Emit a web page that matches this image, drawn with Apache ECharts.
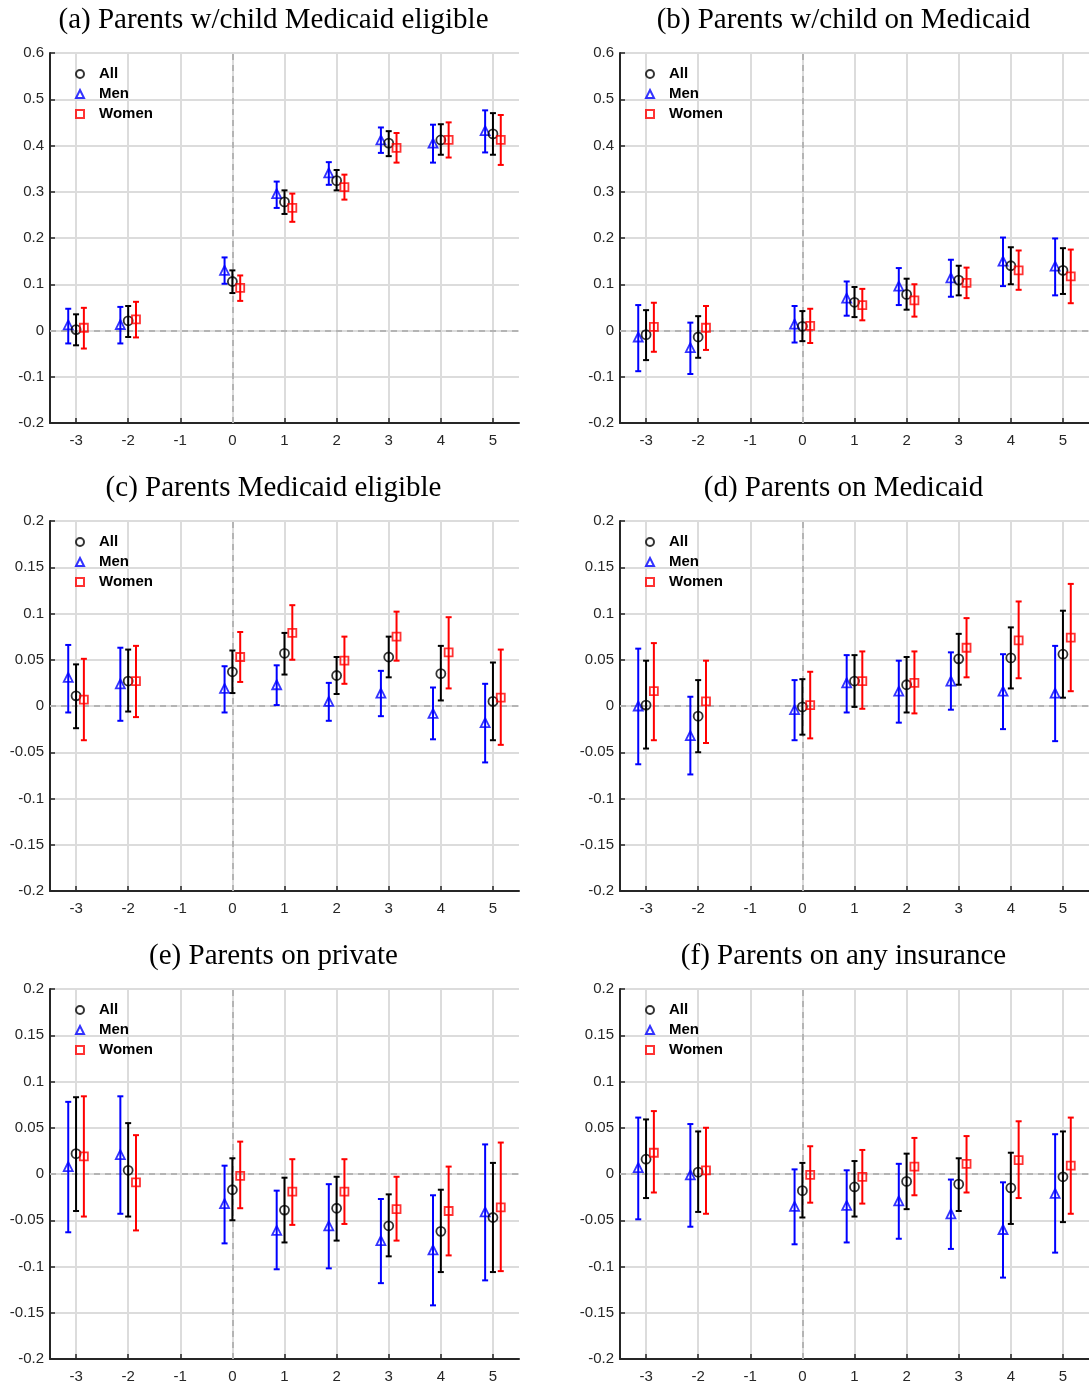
<!DOCTYPE html>
<html>
<head>
<meta charset="utf-8">
<script src="https://cdn.jsdelivr.net/npm/echarts@6/dist/echarts.min.js"></script>
<style>
  html, body { margin: 0; padding: 0; background: #fff; }
  #chart { width: 1089px; height: 1389px; }
</style>
</head>
<body>
<div id="chart"></div>
<script>
// event time (years relative to expansion); -1 is the omitted reference year
const xTicks = [-3, -2, -1, 0, 1, 2, 3, 4, 5];
const periods = [-3, -2, 0, 1, 2, 3, 4, 5];

const titles = [
  '(a) Parents w/child Medicaid eligible',
  '(b) Parents w/child on Medicaid',
  '(c) Parents Medicaid eligible',
  '(d) Parents on Medicaid',
  '(e) Parents on private',
  '(f) Parents on any insurance'
];

// each row: [estimate, lower CI, upper CI]
const aAll = [[0.002,-0.032,0.035],[0.021,-0.014,0.053],[0.106,0.081,0.130],[0.278,0.252,0.303],[0.324,0.303,0.347],[0.405,0.377,0.431],[0.412,0.380,0.446],[0.425,0.380,0.470]];
const aMen = [[0.012,-0.028,0.047],[0.013,-0.028,0.051],[0.130,0.101,0.158],[0.296,0.265,0.322],[0.341,0.315,0.364],[0.412,0.384,0.439],[0.405,0.363,0.445],[0.432,0.385,0.476]];
const aWomen = [[0.006,-0.039,0.049],[0.024,-0.015,0.062],[0.092,0.064,0.119],[0.265,0.235,0.296],[0.310,0.283,0.337],[0.395,0.363,0.427],[0.412,0.374,0.450],[0.412,0.358,0.466]];

const bAll = [[-0.009,-0.064,0.044],[-0.014,-0.059,0.031],[0.009,-0.023,0.042],[0.061,0.029,0.094],[0.078,0.045,0.112],[0.109,0.076,0.140],[0.140,0.100,0.180],[0.130,0.079,0.178]];
const bMen = [[-0.014,-0.088,0.055],[-0.037,-0.094,0.017],[0.014,-0.026,0.053],[0.070,0.032,0.106],[0.096,0.055,0.135],[0.114,0.073,0.153],[0.150,0.096,0.201],[0.139,0.076,0.199]];
const bWomen = [[0.008,-0.046,0.060],[0.006,-0.042,0.053],[0.010,-0.027,0.047],[0.055,0.022,0.090],[0.065,0.030,0.100],[0.103,0.070,0.136],[0.130,0.088,0.173],[0.117,0.059,0.175]];

const cAll = [[0.011,-0.024,0.045],[0.027,-0.006,0.061],[0.037,0.014,0.060],[0.057,0.034,0.079],[0.033,0.013,0.053],[0.053,0.031,0.075],[0.035,0.006,0.065],[0.005,-0.037,0.047]];
const cMen = [[0.031,-0.007,0.066],[0.024,-0.016,0.063],[0.019,-0.007,0.043],[0.023,0.001,0.044],[0.005,-0.016,0.025],[0.014,-0.011,0.038],[-0.008,-0.036,0.020],[-0.018,-0.061,0.024]];
const cWomen = [[0.007,-0.037,0.051],[0.027,-0.012,0.065],[0.053,0.026,0.080],[0.079,0.050,0.109],[0.049,0.024,0.075],[0.075,0.049,0.102],[0.058,0.019,0.096],[0.009,-0.042,0.061]];

const dAll = [[0.001,-0.046,0.049],[-0.011,-0.050,0.028],[-0.001,-0.031,0.029],[0.027,-0.001,0.055],[0.023,-0.007,0.053],[0.051,0.023,0.078],[0.052,0.019,0.085],[0.056,0.009,0.103]];
const dMen = [[0.000,-0.063,0.062],[-0.032,-0.074,0.010],[-0.004,-0.037,0.028],[0.025,-0.007,0.055],[0.016,-0.018,0.049],[0.027,-0.004,0.058],[0.016,-0.025,0.056],[0.014,-0.038,0.065]];
const dWomen = [[0.016,-0.037,0.068],[0.005,-0.040,0.049],[0.001,-0.035,0.037],[0.027,-0.003,0.059],[0.025,-0.008,0.059],[0.063,0.031,0.095],[0.071,0.030,0.113],[0.074,0.016,0.132]];

const eAll = [[0.022,-0.040,0.083],[0.004,-0.046,0.055],[-0.017,-0.050,0.017],[-0.039,-0.074,-0.004],[-0.037,-0.072,-0.003],[-0.056,-0.089,-0.022],[-0.062,-0.106,-0.017],[-0.047,-0.106,0.012]];
const eMen = [[0.008,-0.063,0.078],[0.021,-0.043,0.084],[-0.032,-0.075,0.009],[-0.061,-0.103,-0.018],[-0.056,-0.102,-0.011],[-0.072,-0.118,-0.027],[-0.082,-0.142,-0.023],[-0.041,-0.115,0.032]];
const eWomen = [[0.019,-0.046,0.084],[-0.009,-0.061,0.042],[-0.002,-0.037,0.035],[-0.019,-0.055,0.016],[-0.019,-0.054,0.016],[-0.038,-0.072,-0.003],[-0.040,-0.088,0.008],[-0.036,-0.105,0.034]];

const fAll = [[0.016,-0.026,0.059],[0.002,-0.041,0.046],[-0.018,-0.047,0.012],[-0.014,-0.046,0.014],[-0.008,-0.038,0.022],[-0.011,-0.040,0.017],[-0.015,-0.054,0.023],[-0.003,-0.052,0.046]];
const fMen = [[0.007,-0.049,0.061],[-0.001,-0.057,0.054],[-0.035,-0.076,0.005],[-0.034,-0.074,0.004],[-0.029,-0.070,0.011],[-0.043,-0.081,-0.006],[-0.060,-0.112,-0.009],[-0.021,-0.085,0.043]];
const fWomen = [[0.023,-0.020,0.068],[0.004,-0.043,0.050],[-0.001,-0.031,0.030],[-0.003,-0.032,0.026],[0.008,-0.023,0.039],[0.011,-0.020,0.041],[0.015,-0.026,0.057],[0.009,-0.043,0.061]];

const panels = [
  { all: aAll, men: aMen, women: aWomen, yMin: -0.2, yMax: 0.6, yStep: 0.1 },
  { all: bAll, men: bMen, women: bWomen, yMin: -0.2, yMax: 0.6, yStep: 0.1 },
  { all: cAll, men: cMen, women: cWomen, yMin: -0.2, yMax: 0.2, yStep: 0.05 },
  { all: dAll, men: dMen, women: dWomen, yMin: -0.2, yMax: 0.2, yStep: 0.05 },
  { all: eAll, men: eMen, women: eWomen, yMin: -0.2, yMax: 0.2, yStep: 0.05 },
  { all: fAll, men: fMen, women: fWomen, yMin: -0.2, yMax: 0.2, yStep: 0.05 }
];

const groups = [
  { key: 'men', name: 'Men', color: '#0000ff', symbol: 'triangle', size: 9, shift: -0.15 },
  { key: 'all', name: 'All', color: '#000000', symbol: 'circle', size: 9, shift: 0 },
  { key: 'women', name: 'Women', color: '#ff0000', symbol: 'rect', size: 8, shift: 0.15 }
];

const axisColor = '#262626';
const gridColor = '#dcdcdc';
const lefts = [50, 620];
const tops = [53, 521, 989];
const plotW = 469, plotH = 370;

const chart = echarts.init(document.getElementById('chart'));

const grid = [], xAxis = [], yAxis = [], title = [], legend = [], series = [];

panels.forEach((p, i) => {
  const left = lefts[i % 2];
  const top = tops[Math.floor(i / 2)];
  grid.push({ left: left, top: top, width: plotW, height: plotH });

  title.push({
    text: titles[i],
    left: left + plotW / 2 - 11,
    top: top - 47,
    padding: 0,
    textAlign: 'center',
    textStyle: { fontFamily: 'Liberation Serif', fontSize: 29, fontWeight: 'normal', color: '#000' }
  });

  legend.push({
    data: ['All', 'Men', 'Women'],
    orient: 'vertical',
    left: left + 25,
    top: top + 13,
    padding: 0,
    itemWidth: 8,
    itemHeight: 8,
    itemGap: 4,
    itemTextGap: 16,
    selectedMode: false,
    textStyle: {
      fontFamily: 'Liberation Sans', fontSize: 15, fontWeight: 'bold', color: '#000',
      lineHeight: 16, padding: [0, 0, 0, 10]
    }
  });

  xAxis.push({
    type: 'value', gridIndex: i, min: -3.5, max: 5.5,
    axisLine: { show: true, onZero: false, lineStyle: { color: axisColor, width: 2 } },
    axisTick: { show: true, inside: true, length: 5, customValues: xTicks, lineStyle: { color: axisColor, width: 1.5 } },
    axisLabel: { customValues: xTicks, margin: 10, fontFamily: 'Liberation Sans', fontSize: 15, color: axisColor },
    splitLine: { show: true, lineStyle: { color: gridColor, width: 2 } }
  });

  yAxis.push({
    type: 'value', gridIndex: i, min: p.yMin, max: p.yMax, interval: p.yStep,
    axisLine: { show: true, onZero: false, lineStyle: { color: axisColor, width: 2 } },
    axisTick: { show: true, inside: true, length: 5, lineStyle: { color: axisColor, width: 1.5 } },
    axisLabel: { margin: 6, fontFamily: 'Liberation Sans', fontSize: 15, color: axisColor },
    splitLine: { show: true, lineStyle: { color: gridColor, width: 2 } }
  });

  groups.forEach((g, gi) => {
    const rows = p[g.key];
    // error bars
    series.push({
      type: 'custom',
      name: g.name + ' CI',
      xAxisIndex: i, yAxisIndex: i,
      z: 3,
      silent: true,
      data: rows.map((r, k) => [periods[k] + g.shift, r[1], r[2]]),
      encode: { x: 0, y: [1, 2] },
      renderItem: (params, api) => {
        const x = api.value(0);
        const lo = api.coord([x, api.value(1)]);
        const hi = api.coord([x, api.value(2)]);
        const cap = 3;
        const style = { stroke: g.color, lineWidth: 2, fill: null };
        return {
          type: 'group',
          children: [
            { type: 'line', shape: { x1: lo[0], y1: lo[1], x2: hi[0], y2: hi[1] }, style: style },
            { type: 'line', shape: { x1: lo[0] - cap, y1: lo[1], x2: lo[0] + cap, y2: lo[1] }, style: style },
            { type: 'line', shape: { x1: hi[0] - cap, y1: hi[1], x2: hi[0] + cap, y2: hi[1] }, style: style }
          ]
        };
      },
      markLine: gi === 1 ? {
        silent: true,
        z: 2,
        symbol: ['none', 'none'],
        label: { show: false },
        lineStyle: { type: [6, 5], color: '#b4b4b4', width: 2 },
        data: [{ yAxis: 0 }, { xAxis: 0 }]
      } : undefined
    });
    // point estimates
    series.push({
      type: 'scatter',
      name: g.name,
      xAxisIndex: i, yAxisIndex: i,
      z: 4,
      symbol: g.symbol,
      symbolSize: g.size,
      itemStyle: { color: 'rgba(255,255,255,0)', borderColor: g.color, borderWidth: 1.8 },
      data: rows.map((r, k) => [periods[k] + g.shift, r[0]])
    });
  });
});

chart.setOption({
  animation: false,
  backgroundColor: '#fff',
  title: title,
  legend: legend,
  grid: grid,
  xAxis: xAxis,
  yAxis: yAxis,
  series: series
});
</script>
</body>
</html>
